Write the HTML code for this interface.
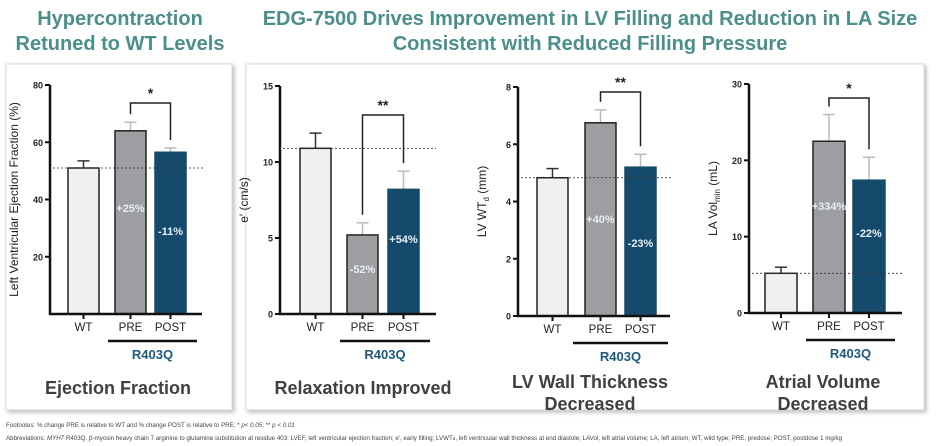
<!DOCTYPE html>
<html><head><meta charset="utf-8"><style>
body{margin:0;background:#fff;width:938px;height:446px;overflow:hidden;font-family:"Liberation Sans",sans-serif}
svg{display:block}
</style></head><body>
<svg id="s" width="938" height="446" viewBox="0 0 938 446" xmlns="http://www.w3.org/2000/svg" font-family="Liberation Sans, sans-serif">
<rect x="6" y="64" width="226" height="346" fill="#fff" stroke="#d8d8d8" style="filter:drop-shadow(2px 2px 2px #bbb)"/>
<rect x="246" y="64" width="678" height="346" fill="#fff" stroke="#d8d8d8" style="filter:drop-shadow(2px 2px 2px #bbb)"/>
<g fill="#4a8f8c" font-weight="bold" font-size="20" text-anchor="middle">
<text x="120" y="25">Hypercontraction</text>
<text x="120" y="50">Retuned to WT Levels</text>
<text x="590" y="25">EDG-7500 Drives Improvement in LV Filling and Reduction in LA Size</text>
<text x="590" y="50">Consistent with Reduced Filling Pressure</text>
</g>
<g fill="#444" font-size="6.2">
<text x="6" y="427">Footnotes: % change PRE is relative to WT and % change POST is relative to PRE; * <tspan font-style="italic">p&lt; 0.05</tspan>; ** <tspan font-style="italic">p &lt; 0.01</tspan></text>
<text x="6" y="440">Abbreviations: <tspan font-style="italic">MYH7</tspan> R403Q, β-myosin heavy chain 7 arginine to glutamine substitution at residue 403; LVEF, left ventricular ejection fraction; e′, early filling; LVWT<tspan font-size="4.5">d</tspan>, left ventricular wall thickness at end diastole; LAVol, left atrial volume; LA, left atrium; WT, wild type; PRE, predose; POST, postdose 1 mg/kg</text>
</g>
<g id="charts"></g>
</svg>
<script>
// chart data
const categories = ["WT","PRE","POST"];
const efValues = [51, 64, 56.5];
const efErrors = [2.5, 3, 1.5];
const efTicks = [20, 40, 60, 80];
const efPct = ["", "+25%", "-11%"];
const eValues = [10.9, 5.2, 8.2];
const eErrors = [1.0, 0.8, 1.2];
const eTicks = [0, 5, 10, 15];
const ePct = ["", "-52%", "+54%"];
const wtValues = [4.83, 6.75, 5.2];
const wtErrors = [0.32, 0.45, 0.45];
const wtTicks = [0, 2, 4, 6, 8];
const wtPct = ["", "+40%", "-23%"];
const laValues = [5.2, 22.5, 17.4];
const laErrors = [0.8, 3.5, 3.0];
const laTicks = [0, 10, 20, 30];
const laPct = ["", "+334%", "-22%"];
const sigLabels = ["*", "**", "**", "*"];

const NS="http://www.w3.org/2000/svg";
const root=document.getElementById('charts');
function mk(tag,attrs,parent,txt){const e=document.createElementNS(NS,tag);for(const k in attrs)e.setAttribute(k,attrs[k]);if(txt!==undefined)e.textContent=txt;(parent||root).appendChild(e);return e;}

const charts=[
 {id:'ef',vals:efValues,errs:efErrors,ticks:efTicks,pct:efPct,max:80,ax:50,top:85,bot:314,xend:202,bars:[68,115,155],bw:31,sig:sigLabels[0],bry:103,pctY:[0,212,235],dotEnd:205,label:'Left Ventricular Ejection Fraction (%)',lfs:12,title:['Ejection Fraction'],tx:118,ty:[394],lineX:[108,197]},
 {id:'e',vals:eValues,errs:eErrors,ticks:eTicks,pct:ePct,max:15,ax:280,top:86,bot:314,xend:436,bars:[300,347,388],bw:31,sig:sigLabels[1],bry:115,pctY:[0,273,243],dotEnd:436,label:"e′ (cm/s)",lfs:12,title:['Relaxation Improved'],tx:363,ty:[394],lineX:[340,430]},
 {id:'wt',vals:wtValues,errs:wtErrors,ticks:wtTicks,pct:wtPct,max:8,ax:518,top:87,bot:316,xend:670,bars:[537,585,625],bw:31,sig:sigLabels[2],bry:92,pctY:[0,223,247],dotEnd:672,label:'LV WT',sub:'d',unit:' (mm)',lfs:12,title:['LV Wall Thickness','Decreased'],tx:590,ty:[388,410],lineX:[573,668]},
 {id:'la',vals:laValues,errs:laErrors,ticks:laTicks,pct:laPct,max:30,ax:749,top:84,bot:313,xend:902,bars:[765,813,853],bw:32,sig:sigLabels[3],bry:98,pctY:[0,210,237],dotEnd:902,label:'LA Vol',sub:'min',unit:' (mL)',lfs:12,title:['Atrial Volume','Decreased'],tx:823,ty:[388,410],lineX:[806,895]}
];
const fills=['#f0f0f0','#9d9ea2','#154a6c'];
const errCol=['#333','#bbb','#bbb'];
charts.forEach(c=>{
 const g=mk('g',{});
 
 
 const y=v=>c.bot-(v/c.max)*(c.bot-c.top);
 c.vals.forEach((v,i)=>{
  const x=c.bars[i],cx=x+c.bw/2;
  const eTop=y(v+c.errs[i]);
  const el=mk('line',{x1:cx,x2:cx,y1:y(v),y2:eTop,stroke:errCol[i],'stroke-width':1.5},g);
  
  
  const cap=mk('line',{x1:cx-6,x2:cx+6,y1:eTop,y2:eTop,stroke:errCol[i],'stroke-width':1.5},g);
  
  
  const r=mk('rect',{x:x,y:y(v),width:c.bw,height:c.bot-y(v),fill:fills[i],stroke:i==2?'#154a6c':'#222','stroke-width':1.5},g);
  
  
  const t=mk('text',{x:cx,y:c.bot+17,'font-size':11.5,'text-anchor':'middle',fill:'#222'},g,categories[i]);
  
  
  if(c.pct[i]){
   const p=mk('text',{x:cx,y:c.pctY[i],'font-size':11,'font-weight':'bold','text-anchor':'middle',fill:'#e8eef2'},g,c.pct[i]);
   
   
  }
 });
 const d=mk('line',{x1:c.ax+3,x2:c.dotEnd,y1:y(c.vals[0]),y2:y(c.vals[0]),stroke:'#333','stroke-width':0.8,'stroke-dasharray':'2,2'},g);
 
 
 const ya=mk('line',{x1:c.ax,x2:c.ax,y1:c.top,y2:c.bot+1,stroke:'#111','stroke-width':2.5},g);
 
 
 const xa=mk('line',{x1:c.ax-1,x2:c.xend,y1:c.bot,y2:c.bot,stroke:'#111','stroke-width':2.5},g);
 
 
 c.bars.forEach((x,i)=>{mk('line',{x1:x+c.bw/2,x2:x+c.bw/2,y1:c.bot,y2:c.bot+5,stroke:'#111','stroke-width':2},g);});
 c.ticks.forEach(tv=>{
  mk('line',{x1:c.ax-5,x2:c.ax,y1:y(tv),y2:y(tv),stroke:'#111','stroke-width':2},g);
  const tl=mk('text',{x:c.ax-7,y:y(tv)+3.5,'font-size':9,'font-weight':'bold','text-anchor':'end',fill:'#222'},g,tv);
  
  
 });
 const lx=c.ax-32,ly=(c.top+c.bot)/2;
 const yl=mk('text',{x:lx,y:ly,'font-size':c.lfs,'text-anchor':'middle',fill:'#222',transform:`rotate(-90 ${lx} ${ly})`},g);
 
 
 yl.appendChild(document.createTextNode(c.label));
 if(c.sub){const s=document.createElementNS(NS,'tspan');s.setAttribute('font-size','8');s.setAttribute('dy','3');s.textContent=c.sub;yl.appendChild(s);
  const u=document.createElementNS(NS,'tspan');u.setAttribute('dy','-3');u.textContent=c.unit;yl.appendChild(u);}
 const px=c.bars[1]+c.bw/2,qx=c.bars[2]+c.bw/2;
 const pe=y(c.vals[1]+c.errs[1])-8, qe=y(c.vals[2]+c.errs[2])-8;
 const br=mk('path',{d:`M${px},${pe} V${c.bry} H${qx} V${qe}`,fill:'none',stroke:'#222','stroke-width':1.5},g);
 
 
 const st=mk('text',{x:(px+qx)/2,y:c.bry-5,'font-size':14,'font-weight':'bold','text-anchor':'middle',fill:'#222'},g,c.sig);
 
 
 const gl=mk('line',{x1:c.lineX[0],x2:c.lineX[1],y1:c.bot+27,y2:c.bot+27,stroke:'#111','stroke-width':2.5},g);
 
 
 const gt=mk('text',{x:(c.lineX[0]+c.lineX[1])/2,y:c.bot+45,'font-size':13,'font-weight':'bold','text-anchor':'middle',fill:'#1d5a80'},g,'R403Q');
 
 
 c.title.forEach((tt,i)=>{
  const ti=mk('text',{x:c.tx,y:c.ty[i],'font-size':18,'font-weight':'bold','text-anchor':'middle',fill:'#404040'},g,tt);
  
  
 });
});
</script>
</body></html>
